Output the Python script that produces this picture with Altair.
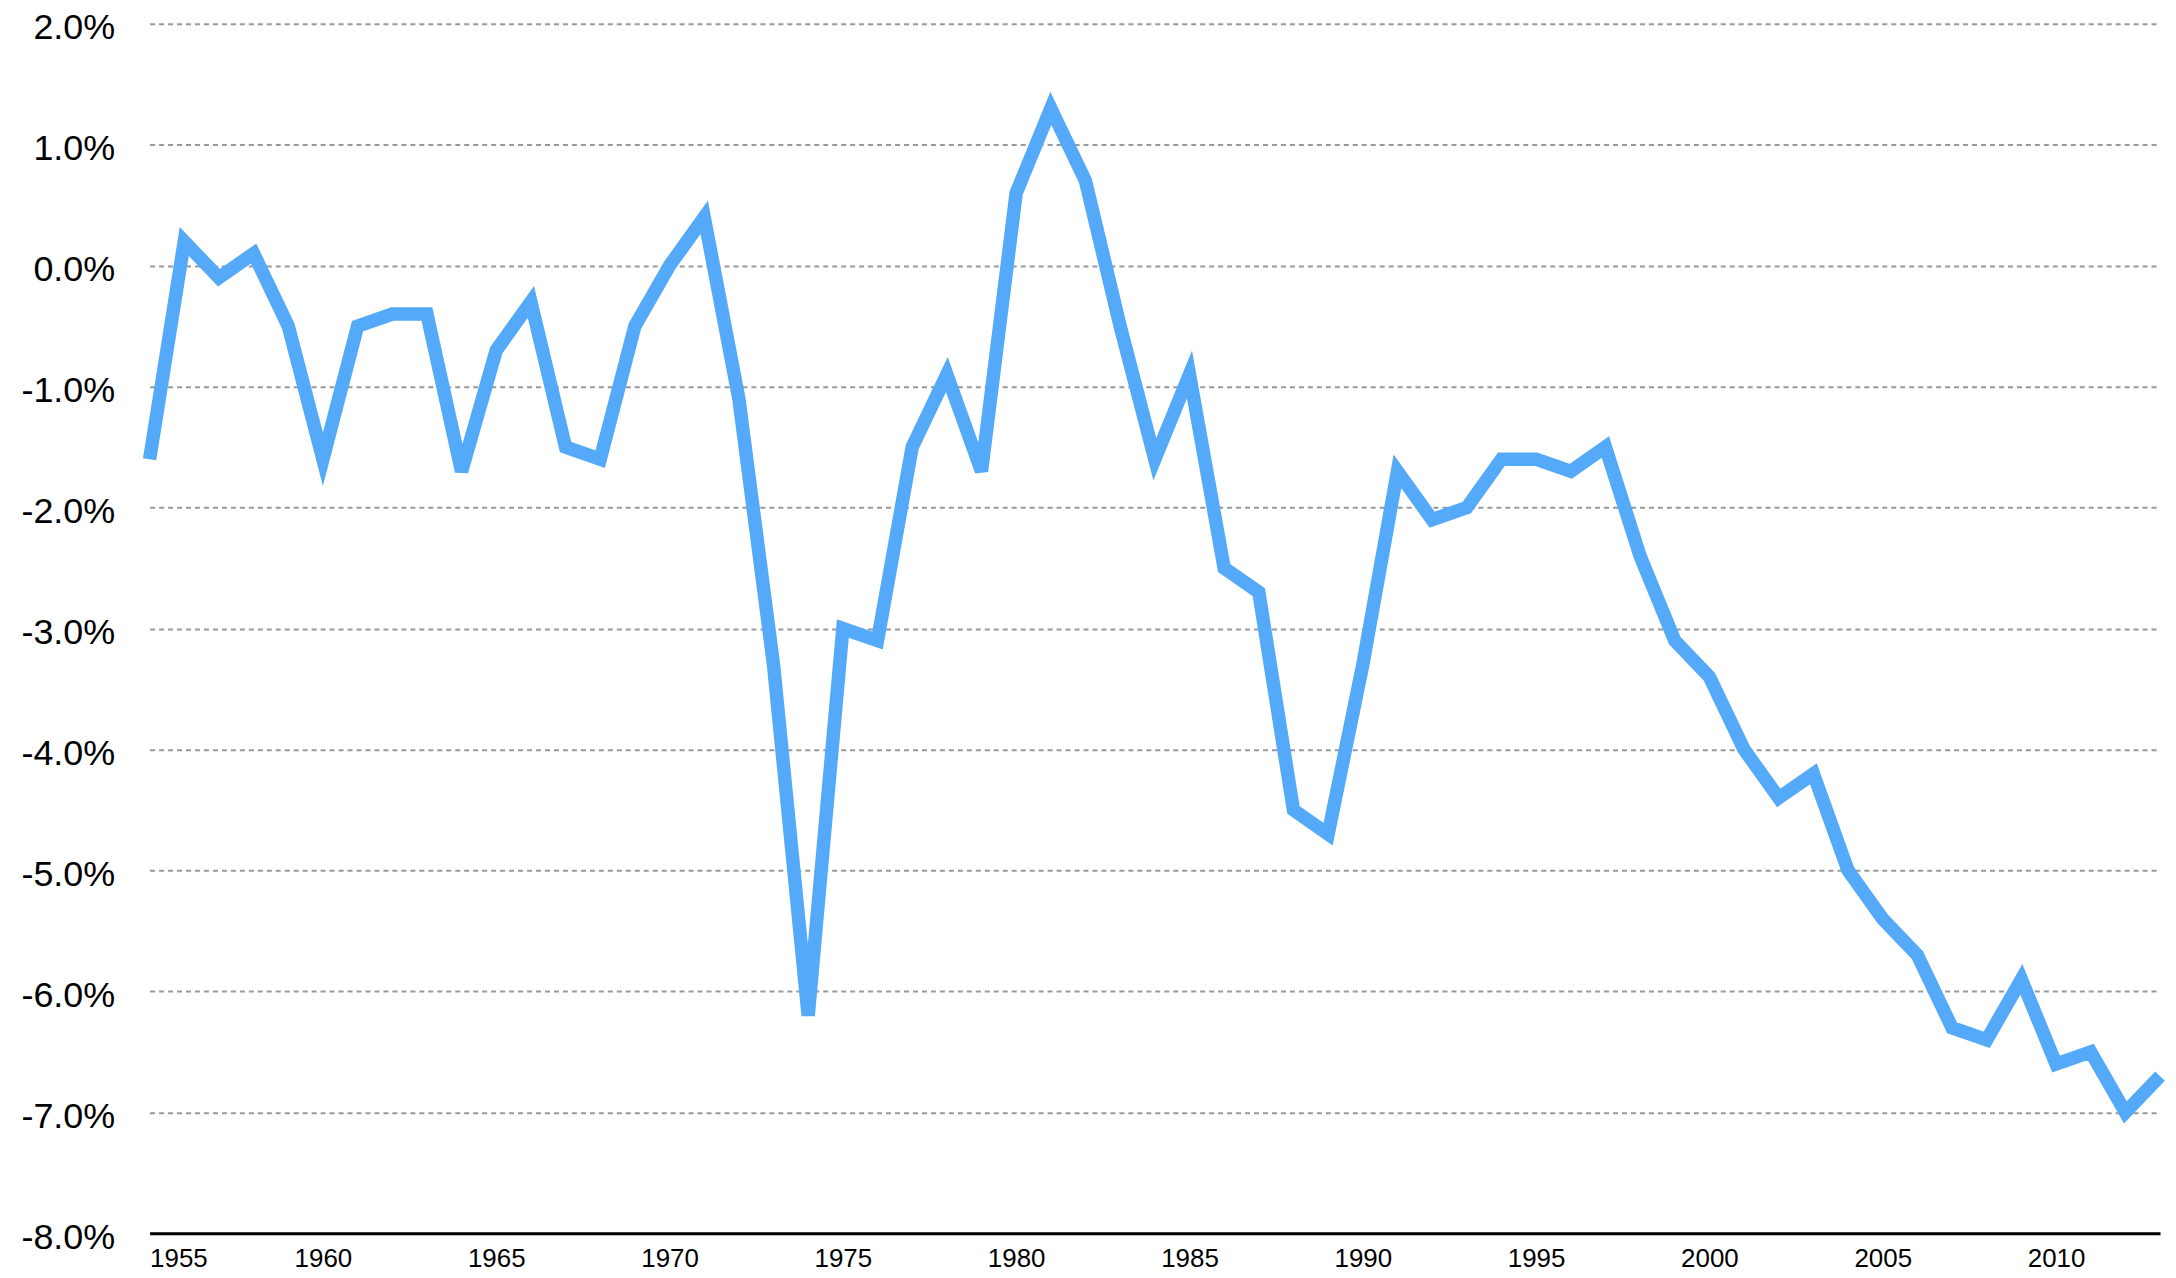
import altair as alt
import pandas as pd

years = list(range(1955, 2014))
values = [
    -1.6, 0.2, -0.1, 0.1, -0.5, -1.6, -0.5, -0.4, -0.4, -1.7,   # 1955-1964
    -0.7, -0.3, -1.5, -1.6, -0.5, 0.0, 0.4, -1.1, -3.3, -6.2,   # 1965-1974
    -3.0, -3.1, -1.5, -0.9, -1.7, 0.6, 1.3, 0.7, -0.5, -1.6,    # 1975-1984
    -0.9, -2.5, -2.7, -4.5, -4.7, -3.3, -1.7, -2.1, -2.0, -1.6, # 1985-1994
    -1.6, -1.7, -1.5, -2.4, -3.1, -3.4, -4.0, -4.4, -4.2, -5.0, # 1995-2004
    -5.4, -5.7, -6.3, -6.4, -5.9, -6.6, -6.5, -7.0, -6.7,       # 2005-2013
]
x_ticks = [1955, 1960, 1965, 1970, 1975, 1980, 1985, 1990, 1995, 2000, 2005, 2010]
y_ticks = [-8, -7, -6, -5, -4, -3, -2, -1, 0, 1, 2]

df = pd.DataFrame({"year": years, "value": values})

chart = alt.Chart(df).mark_line(
    color="#55a9f9", strokeWidth=13.5, strokeJoin="miter"
).encode(
    x=alt.X(
        "year:Q",
        scale=alt.Scale(domain=[1955, 2013], nice=False, zero=False),
        axis=alt.Axis(
            values=x_ticks, format="d", grid=False, ticks=False,
            domainColor="black", domainWidth=3,
            labelFont="Liberation Sans", labelFontSize=26, labelColor="black",
            labelPadding=12, title=None,
        ),
    ),
    y=alt.Y(
        "value:Q",
        scale=alt.Scale(domain=[-8, 2], nice=False, zero=False),
        axis=alt.Axis(
            values=y_ticks,
            labelExpr="(datum.value < 0 ? '-' : '') + format(abs(datum.value), '.1f') + '%'",
            grid=True, gridDash=[5, 4], gridColor="#999999", gridWidth=2,
            domain=False, ticks=False,
            labelFont="Liberation Sans", labelFontSize=36, labelColor="black",
            labelPadding=35, labelOffset=4, title=None,
        ),
    ),
).properties(
    width=2016, height=1213,
    autosize=alt.AutoSizeParams(type="none"),
    padding={"left": 142, "top": 14, "right": 8, "bottom": 40},
).configure(background="white").configure_view(stroke=None)

chart.save("out.html", embed_options={"renderer": "svg", "actions": False})
